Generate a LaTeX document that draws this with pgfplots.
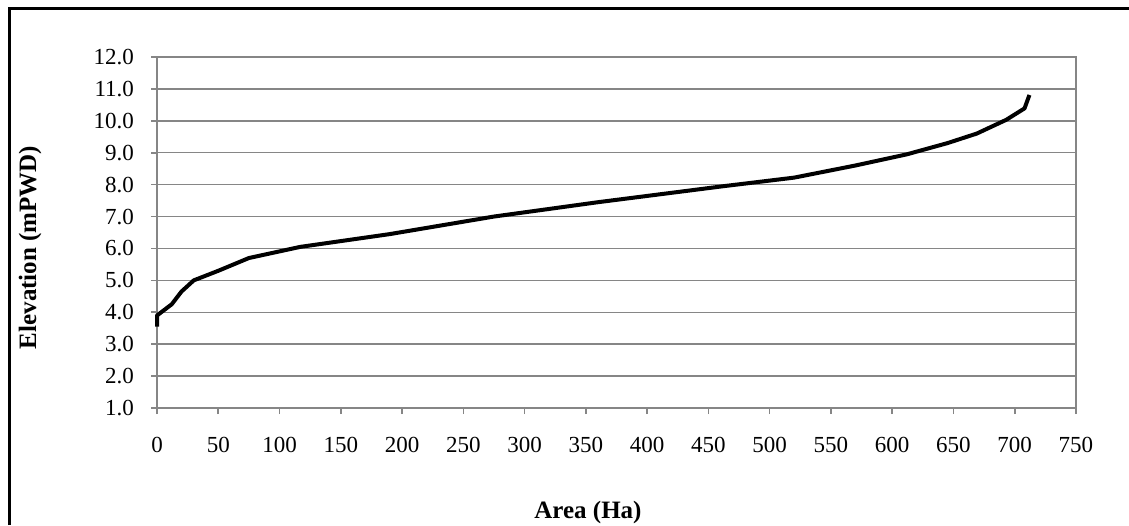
\documentclass[border=0pt]{standalone}
\usepackage{fontspec}
\setmainfont{Liberation Serif}
\usepackage{pgfplots}
\pgfplotsset{compat=1.18}
\definecolor{gridgray}{RGB}{134,134,134}
\begin{document}
\begin{tikzpicture}
\path[use as bounding box] (0,0) rectangle (564.5pt,262.5pt);
\draw[line width=1.5pt] (4.6pt,0pt) -- (4.6pt,258pt) -- (564.5pt,258pt);
\begin{axis}[
  at={(78.5pt,58.5pt)}, anchor=south west,
  width=459.5pt, height=175.5pt, scale only axis,
  xmin=0, xmax=750, ymin=1, ymax=12,
  xtick={0,50,...,750}, ytick={1,2,...,12},
  axis line style={gridgray, line width=0.8pt},
  tick style={gridgray, line width=0.8pt},
  tick align=outside, major tick length=3pt,
  xtick pos=bottom, ytick pos=left,
  ymajorgrids, grid style={gridgray, line width=0.7pt},
  yticklabel={\pgfmathprintnumber[fixed,fixed zerofill,precision=1]{\tick}},
  /pgf/number format/assume math mode=true,
  ticklabel style={font=\fontsize{11.5}{13}\selectfont, text=black},
  xticklabel style={yshift=-8pt},
  yticklabel style={xshift=-5pt},
  clip=false,
]
\addplot[black, line width=2pt, line join=round] coordinates {
(0,3.55) (0,3.9) (12,4.25) (20,4.65) (30,5.0) (50,5.3) (75,5.7) (117,6.05)
(190,6.45) (275,7.0) (360,7.45) (462,7.95) (520,8.22) (570,8.6) (612,8.95)
(645,9.3) (669,9.6) (693,10.03) (708,10.39) (712,10.81)
};
\end{axis}
\node[rotate=90, font=\fontsize{12.5}{14}\selectfont\bfseries] at (15pt,138.75pt) {Elevation (mPWD)};
\node[font=\fontsize{12.5}{14}\selectfont\bfseries] at (294pt,6.5pt) {Area (Ha)};
\end{tikzpicture}
\end{document}
